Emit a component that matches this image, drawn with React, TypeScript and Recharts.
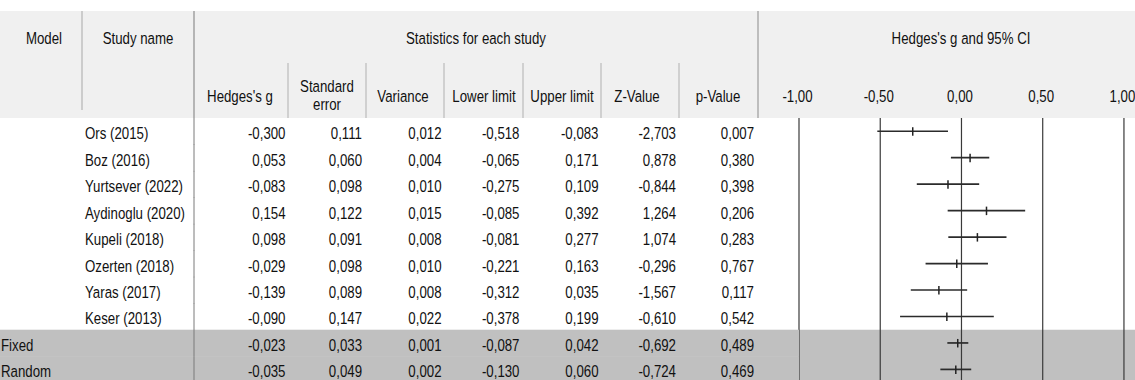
import React from "react";
import {
  ComposedChart,
  XAxis,
  YAxis,
  ReferenceArea,
  ReferenceLine,
  Scatter,
} from "recharts";

// ---------- data ----------
const models = ["", "", "", "", "", "", "", "", "Fixed", "Random"];
const studyNames = [
  "Ors (2015)",
  "Boz (2016)",
  "Yurtsever (2022)",
  "Aydinoglu (2020)",
  "Kupeli (2018)",
  "Ozerten (2018)",
  "Yaras (2017)",
  "Keser (2013)",
  "",
  "",
];
const hedgesG = [-0.3, 0.053, -0.083, 0.154, 0.098, -0.029, -0.139, -0.09, -0.023, -0.035];
const stdError = [0.111, 0.06, 0.098, 0.122, 0.091, 0.098, 0.089, 0.147, 0.033, 0.049];
const variance = [0.012, 0.004, 0.01, 0.015, 0.008, 0.01, 0.008, 0.022, 0.001, 0.002];
const lowerLimit = [-0.518, -0.065, -0.275, -0.085, -0.081, -0.221, -0.312, -0.378, -0.087, -0.13];
const upperLimit = [-0.083, 0.171, 0.109, 0.392, 0.277, 0.163, 0.035, 0.199, 0.042, 0.06];
const zValue = [-2.703, 0.878, -0.844, 1.264, 1.074, -0.296, -1.567, -0.61, -0.692, -0.724];
const pValue = [0.007, 0.38, 0.398, 0.206, 0.283, 0.767, 0.117, 0.542, 0.489, 0.469];
const summaryRows = [8, 9];
const xTicks = [-1, -0.5, 0, 0.5, 1];

const rows = hedgesG.map((g, i) => ({
  row: i,
  g,
  lower: lowerLimit[i],
  upper: upperLimit[i],
}));

// ---------- layout ----------
const CHART_W = 1135;
const CHART_H = 380;
const PLOT_TOP = 118;
const PLOT_LEFT = 799;
const Y_MIN = -0.5;
const Y_MAX = 9.4;
const X_DOMAIN: [number, number] = [-1, 1.068];
const ROW_STEP = (CHART_H - PLOT_TOP) / (Y_MAX - Y_MIN);
const FONT = "'Liberation Sans', Arial, sans-serif";

const fmt3 = (v: number) => v.toFixed(3).replace(".", ",");
const fmt2 = (v: number) => v.toFixed(2).replace(".", ",");

function T({ x, y, anchor = "start", children }: any) {
  return (
    <text
      transform={`translate(${x} ${y}) scale(0.78 1)`}
      textAnchor={anchor}
      fontSize={17}
      fontFamily={FONT}
      fill="#111"
    >
      {children}
    </text>
  );
}

const numCols: { right: number; values: number[] }[] = [
  { right: 285.5, values: hedgesG },
  { right: 362, values: stdError },
  { right: 441.5, values: variance },
  { right: 519.5, values: lowerLimit },
  { right: 598.5, values: upperLimit },
  { right: 676, values: zValue },
  { right: 754, values: pValue },
];

function RowTick(props: any) {
  const { y, payload } = props;
  const i = payload.value as number;
  const isSummary = summaryRows.includes(i);
  const top = y - ROW_STEP / 2;
  const base = y + 8;
  return (
    <g>
      {isSummary && (
        <rect x={0} y={top} width={PLOT_LEFT} height={ROW_STEP + 0.5} fill="#c0c0c0" />
      )}
      <line x1={194} x2={194} y1={top} y2={top + ROW_STEP + 0.5} stroke="#7a7a7a" strokeWidth={1} />
      <T x={1} y={base}>{models[i]}</T>
      <T x={85} y={base}>{studyNames[i]}</T>
      {numCols.map((c, k) => (
        <T key={k} x={c.right} y={base} anchor="end">
          {fmt3(c.values[i])}
        </T>
      ))}
    </g>
  );
}

function XTick(props: any) {
  const { x, payload } = props;
  return (
    <T x={x - 1.5} y={102} anchor="middle">
      {fmt2(payload.value)}
    </T>
  );
}

function Marker(props: any) {
  const { cx, cy } = props;
  return <line x1={cx} x2={cx} y1={cy - 4} y2={cy + 4.5} stroke="#222" strokeWidth={1.5} />;
}

function Header() {
  const subSeps = [288, 366, 444, 523, 601, 679];
  return (
    <svg
      width={CHART_W}
      height={CHART_H}
      style={{ position: "absolute", left: 0, top: 0 }}
    >
      <rect x={0} y={0} width={CHART_W} height={CHART_H} fill="#fff" />
      <rect x={0} y={11} width={CHART_W} height={PLOT_TOP - 11} fill="#f0f0f0" />
      <line x1={82} x2={82} y1={11} y2={110} stroke="#a8a8a8" />
      <line x1={194} x2={194} y1={11} y2={PLOT_TOP} stroke="#7a7a7a" />
      <line x1={758} x2={758} y1={11} y2={PLOT_TOP} stroke="#8a8a8a" />
      {subSeps.map((sx) => (
        <line key={sx} x1={sx} x2={sx} y1={63} y2={PLOT_TOP} stroke="#b0b0b0" />
      ))}
      <T x={44} y={44} anchor="middle">Model</T>
      <T x={138} y={44} anchor="middle">Study name</T>
      <T x={476} y={44} anchor="middle">Statistics for each study</T>
      <T x={961} y={44} anchor="middle">Hedges's g and 95% CI</T>
      <T x={240} y={102} anchor="middle">Hedges's g</T>
      <T x={327} y={92} anchor="middle">Standard</T>
      <T x={327} y={110} anchor="middle">error</T>
      <T x={403} y={102} anchor="middle">Variance</T>
      <T x={484} y={102} anchor="middle">Lower limit</T>
      <T x={562} y={102} anchor="middle">Upper limit</T>
      <T x={637} y={102} anchor="middle">Z-Value</T>
      <T x={718} y={102} anchor="middle">p-Value</T>
    </svg>
  );
}

export default function App() {
  return (
    <div style={{ position: "relative", width: CHART_W, height: CHART_H, overflow: "hidden" }}>
      <style>{"body{margin:0}"}</style>
      <Header />
      <div style={{ position: "absolute", left: 0, top: 0 }}>
        <ComposedChart
          width={CHART_W}
          height={CHART_H}
          data={rows}
          margin={{ top: 0, right: 0, bottom: 0, left: 0 }}
        >
          <XAxis
            type="number"
            dataKey="g"
            orientation="top"
            height={PLOT_TOP}
            domain={X_DOMAIN}
            ticks={xTicks}
            interval={0}
            allowDataOverflow
            axisLine={false}
            tickLine={false}
            tick={(p: any) => <XTick {...p} />}
          />
          <YAxis
            type="number"
            dataKey="row"
            width={PLOT_LEFT}
            domain={[Y_MIN, Y_MAX]}
            ticks={rows.map((r) => r.row)}
            interval={0}
            reversed
            allowDataOverflow
            axisLine={false}
            tickLine={false}
            tick={(p: any) => <RowTick {...p} />}
          />
          <ReferenceArea
            y1={7.5}
            y2={Y_MAX}
            fill="#c0c0c0"
            fillOpacity={1}
            stroke="none"
            ifOverflow="visible"
          />
          {xTicks.map((t) => (
            <ReferenceLine key={`g${t}`} x={t} stroke="#3a3a3a" strokeWidth={1.2} />
          ))}
          {rows.map((r) => (
            <ReferenceLine
              key={r.row}
              segment={[
                { x: r.lower, y: r.row },
                { x: r.upper, y: r.row },
              ]}
              stroke="#2b2b2b"
              strokeWidth={1.7}
            />
          ))}
          <Scatter data={rows} dataKey="row" shape={<Marker />} isAnimationActive={false} />
        </ComposedChart>
      </div>
    </div>
  );
}
